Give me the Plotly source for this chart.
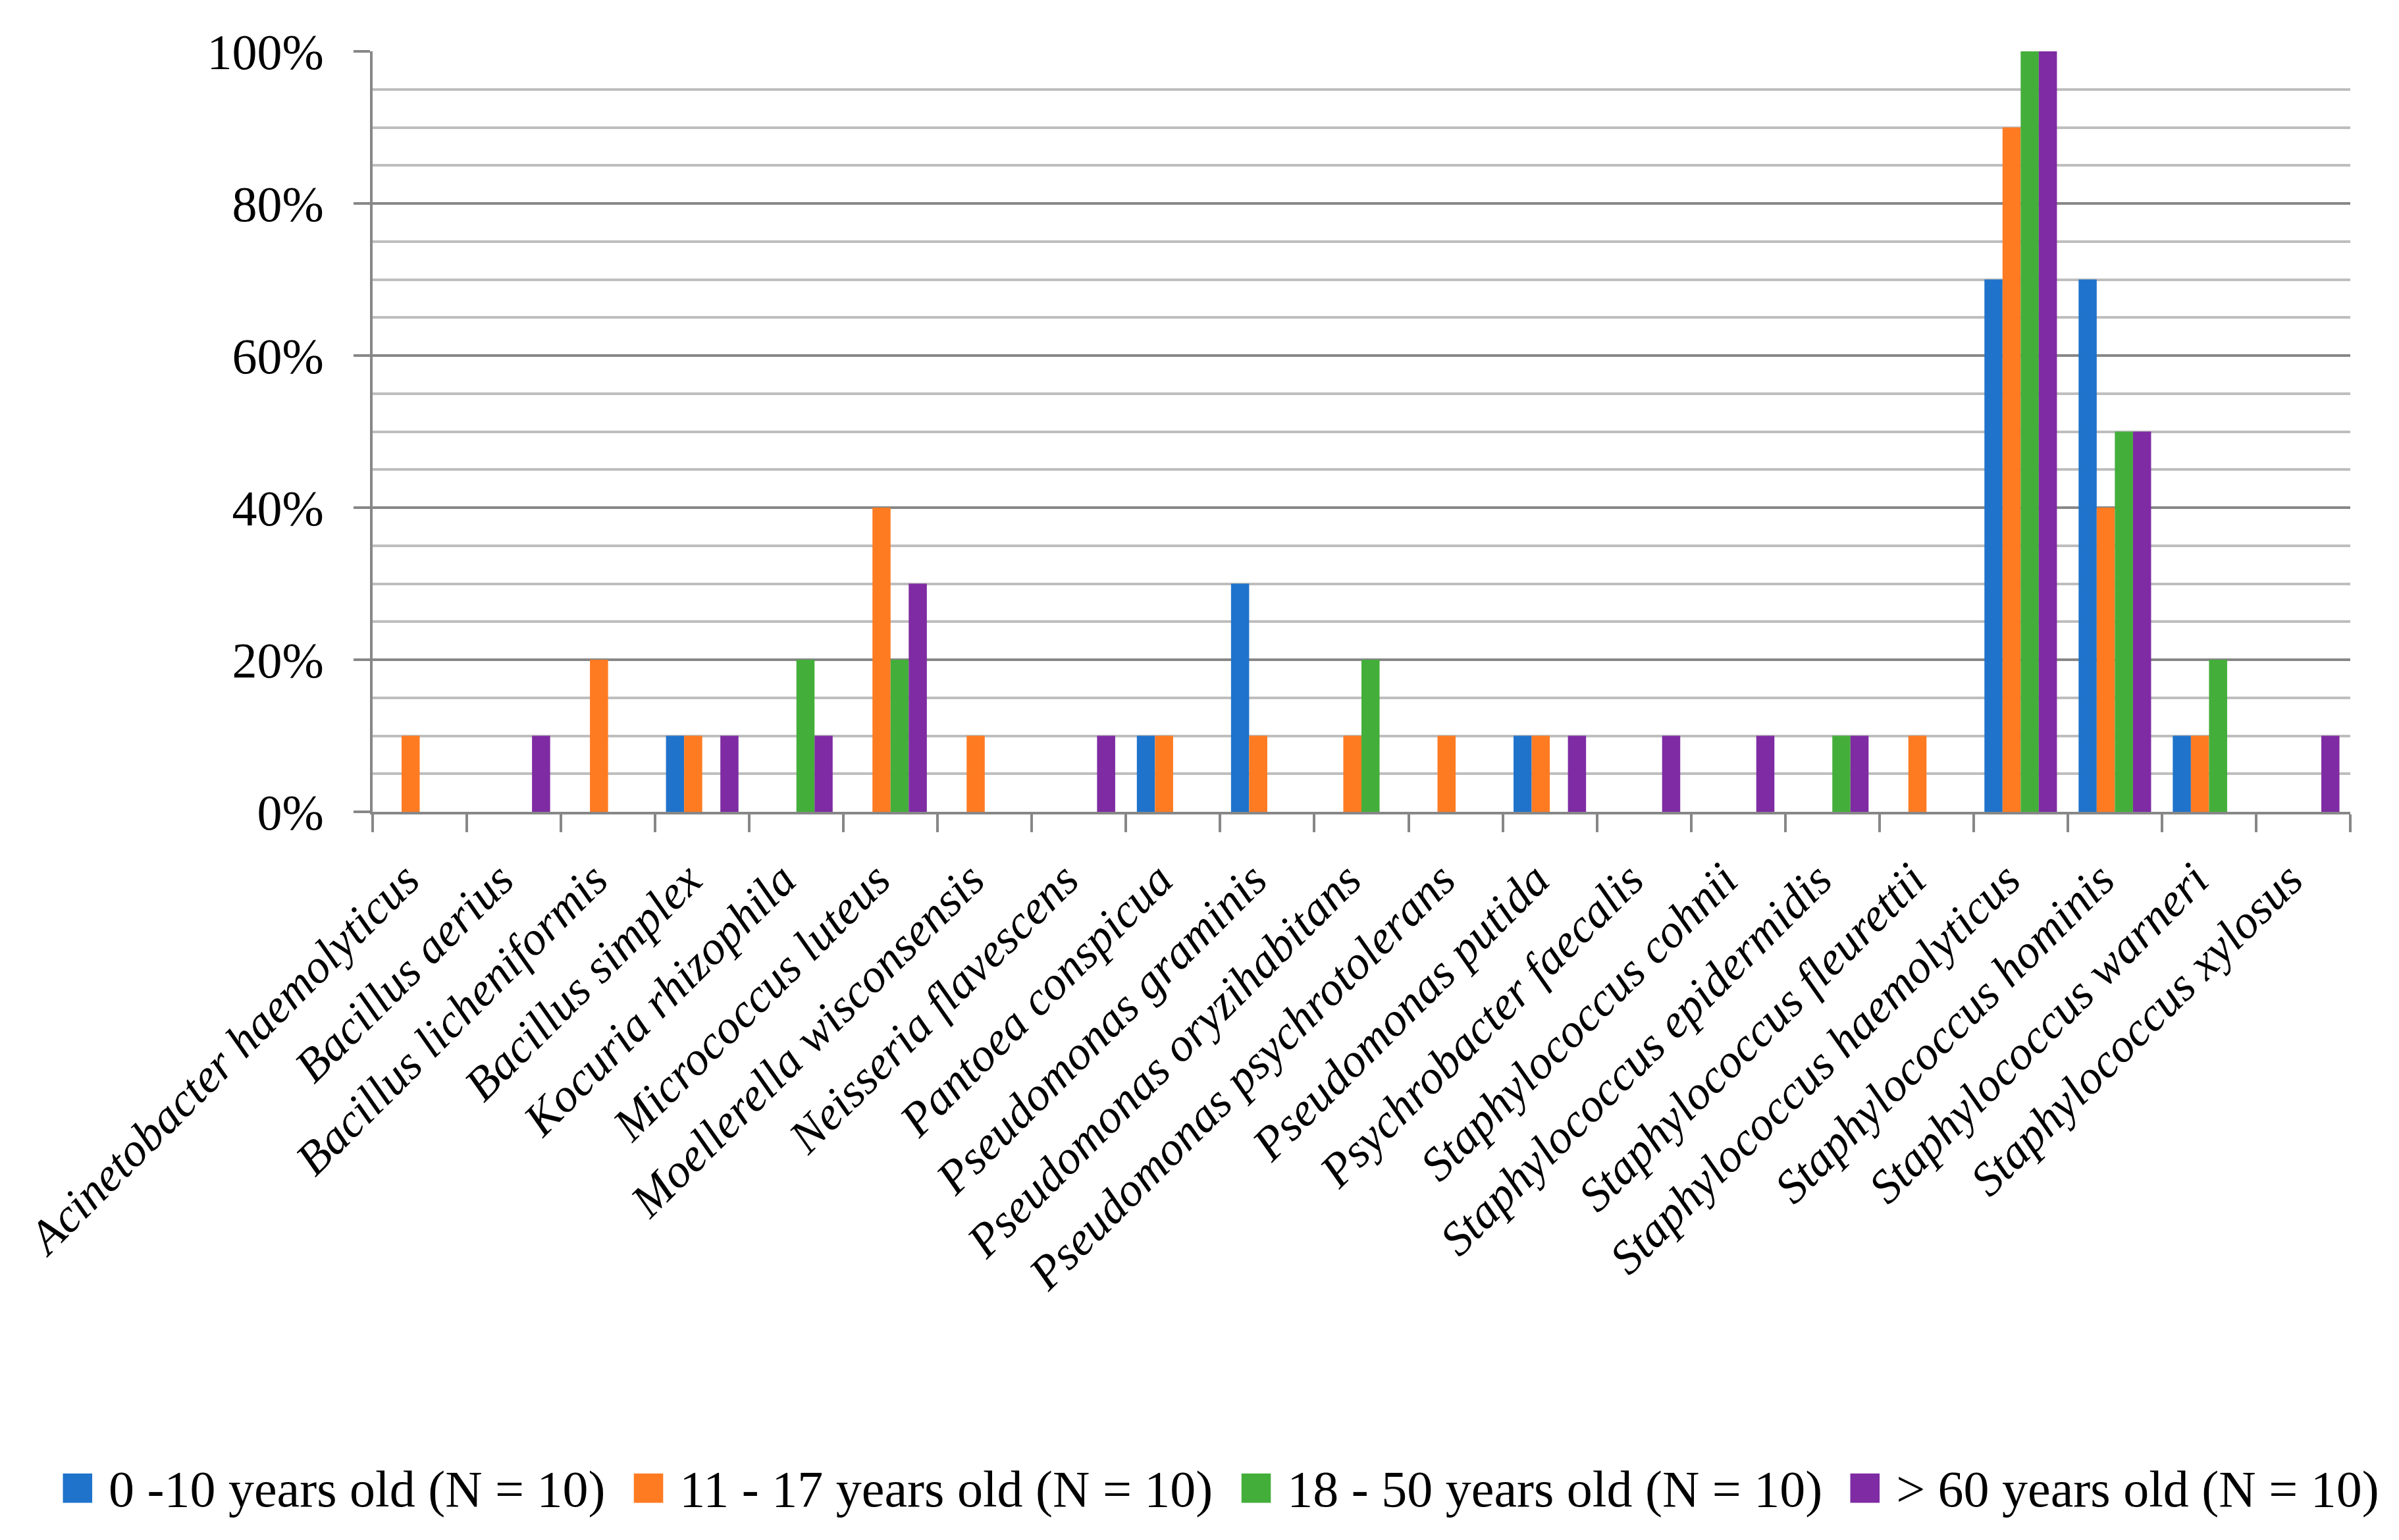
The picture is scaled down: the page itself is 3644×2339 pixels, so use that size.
import plotly.graph_objects as go

categories = [
    "Acinetobacter haemolyticus", "Bacillus aerius", "Bacillus licheniformis",
    "Bacillus simplex", "Kocuria rhizophila", "Micrococcus luteus",
    "Moellerella wisconsensis", "Neisseria flavescens", "Pantoea conspicua",
    "Pseudomonas graminis", "Pseudomonas oryzihabitans", "Pseudomonas psychrotolerans",
    "Pseudomonas putida", "Psychrobacter faecalis", "Staphylococcus cohnii",
    "Staphylococcus epidermidis", "Staphylococcus fleurettii", "Staphylococcus haemolyticus",
    "Staphylococcus hominis", "Staphylococcus warneri", "Staphylococcus xylosus",
]

age_0_10 =  [0, 0, 0, 10, 0, 0, 0, 0, 10, 30, 0, 0, 10, 0, 0, 0, 0, 70, 70, 10, 0]
age_11_17 = [10, 0, 20, 10, 0, 40, 10, 0, 10, 10, 10, 10, 10, 0, 0, 0, 10, 90, 40, 10, 0]
age_18_50 = [0, 0, 0, 0, 20, 20, 0, 0, 0, 0, 20, 0, 0, 0, 0, 10, 0, 100, 50, 20, 0]
age_60 =    [0, 10, 0, 10, 10, 30, 0, 10, 0, 0, 0, 0, 10, 10, 10, 10, 0, 100, 50, 0, 10]

series_names = [
    "0 -10 years old (N = 10)",
    "11 - 17 years old (N = 10)",
    "18 - 50 years old (N = 10)",
    "> 60 years old (N = 10)",
]
series_values = [age_0_10, age_11_17, age_18_50, age_60]
colors = ["#1f73cb", "#ff7b22", "#44ae3b", "#7f2ba3"]

y_tick_vals = [0, 20, 40, 60, 80, 100]
y_tick_text = ["0%", "20%", "40%", "60%", "80%", "100%"]

FONT = "Liberation Serif"
GRID_MAJOR = "#878787"
GRID_MINOR = "#bebebe"

# horizontal anchor (fraction of figure width) of each legend entry
legend_x = [0.0115, 0.2495, 0.5028, 0.7566]
legend_ids = ["legend", "legend2", "legend3", "legend4"]

fig = go.Figure()
for name, vals, col in zip(series_names, series_values, colors):
    fig.add_trace(go.Bar(
        x=categories, y=vals, name=name, showlegend=False,
        marker=dict(color=col, line=dict(width=0)),
    ))

# legend entries with large square swatches
for name, col, lid in zip(series_names, colors, legend_ids):
    fig.add_trace(go.Scatter(
        x=[None], y=[None], mode="lines", line=dict(width=0, color=col),
        name=f'<span style="color:{col};font-size:92px">■</span> {name}',
        showlegend=True, legend=lid,
    ))

legend_style = dict(
    orientation="h", xref="container", yref="paper",
    xanchor="left", y=-0.887, yanchor="middle",
    font=dict(family=FONT, size=78, color="black"),
    itemwidth=30, bgcolor="rgba(0,0,0,0)",
)

fig.update_layout(
    width=3644, height=2339,
    margin=dict(l=558, r=82, t=70, b=1114, autoexpand=False),
    paper_bgcolor="white", plot_bgcolor="white",
    barmode="group", bargap=0.23, bargroupgap=0,
    font=dict(family=FONT, color="black", size=72),
)
for lid, lx in zip(legend_ids, legend_x):
    fig.update_layout({lid: dict(legend_style, x=lx)})

fig.update_xaxes(
    type="category",
    showline=True, linecolor=GRID_MAJOR, linewidth=4,
    ticks="outside", tickson="boundaries", ticklen=27, tickwidth=4, tickcolor=GRID_MAJOR,
    tickangle=-45,
    ticklabelstandoff=28, ticklabelshift=-22,
    tickfont=dict(family=FONT, size=72, style="italic", color="black"),
    showgrid=False, zeroline=False,
)

fig.update_yaxes(
    range=[0, 100],
    tickvals=y_tick_vals, ticktext=y_tick_text,
    showline=True, linecolor=GRID_MAJOR, linewidth=4,
    ticks="outside", ticklen=25, tickwidth=4, tickcolor=GRID_MAJOR,
    ticklabelstandoff=30,
    tickfont=dict(family=FONT, size=76, color="black"),
    showgrid=True, gridcolor=GRID_MAJOR, gridwidth=3.5,
    minor=dict(dtick=5, showgrid=True, gridcolor=GRID_MINOR, gridwidth=3.5, ticks=""),
    zeroline=False,
)

fig.write_html("out.html")
